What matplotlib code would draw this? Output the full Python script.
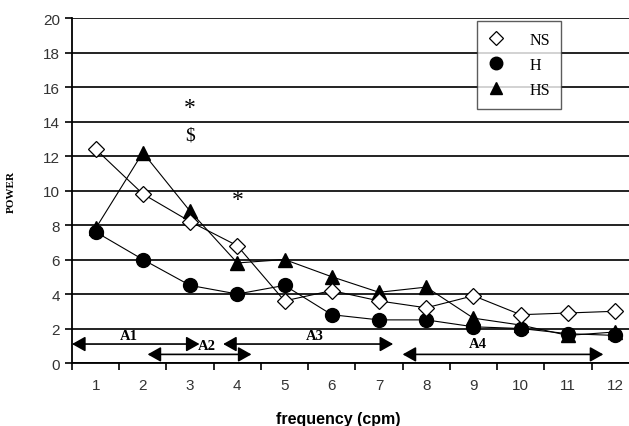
import numpy as np
import matplotlib
matplotlib.use('Agg')
import matplotlib.pyplot as plt

freq = np.arange(1, 13)
ns = [12.4, 9.8, 8.2, 6.8, 3.6, 4.2, 3.6, 3.2, 3.9, 2.8, 2.9, 3.0]
h  = [7.6, 6.0, 4.5, 4.0, 4.5, 2.8, 2.5, 2.5, 2.1, 2.0, 1.7, 1.6]
hs = [7.8, 12.2, 8.8, 5.8, 6.0, 5.0, 4.1, 4.4, 2.6, 2.2, 1.6, 1.8]

# bandes de fréquence (début, fin, hauteur, étiquette, position étiquette)
bands = [
    (0.5, 3.2, 1.1, 'A1', 1.7, 1.6),
    (2.1, 4.3, 0.5, 'A2', 3.35, 1.0),
    (3.7, 7.3, 1.1, 'A3', 5.65, 1.6),
    (7.5, 11.75, 0.5, 'A4', 9.1, 1.15),
]
marks = [(3, 14.8, '*', 17), (3, 13.2, '$', 14), (4, 9.5, '*', 17)]

fig = plt.figure(figsize=(6.29, 4.27), dpi=100)
ax = fig.add_axes([0.1145, 0.1475, 0.901, 0.808])

ax.plot(freq, ns, color='black', lw=0.8, marker='D', ms=8, mfc='white',
        mec='black', mew=0.9, label='NS', zorder=4)
ax.plot(freq, h, color='black', lw=0.8, marker='o', ms=10, mfc='black',
        mec='black', label='H', zorder=3)
ax.plot(freq, hs, color='black', lw=0.8, marker='^', ms=10, mfc='black',
        mec='black', label='HS', zorder=3)

for x0, x1, y, lab, lx, ly in bands:
    ax.annotate('', xy=(x1, y), xytext=(x0, y),
                arrowprops=dict(arrowstyle='<|-|>,head_length=0.8,head_width=0.45',
                                color='black', lw=1.2, shrinkA=0, shrinkB=0),
                annotation_clip=False, zorder=5)
    ax.text(lx, ly, lab, ha='center', va='center', fontsize=10.5,
            fontweight='bold', family='Liberation Serif')

for x, y, s, fs in marks:
    ax.text(x, y, s, ha='center', va='center', fontsize=fs,
            family='Liberation Serif')

ax.set_xlim(0.5, 12.5)
ax.set_ylim(0, 20)
ax.set_yticks(np.arange(0, 21, 2))
ax.set_xticks(freq)
ax.set_xticks(np.arange(0.5, 13, 1), minor=True)
ax.tick_params(axis='x', which='major', length=0, pad=11)
ax.tick_params(axis='x', which='minor', length=5, width=1.2, direction='out')
ax.tick_params(axis='y', length=5, width=1.2, direction='out')
for lbl in ax.get_xticklabels() + ax.get_yticklabels():
    lbl.set_family('Liberation Sans')
    lbl.set_fontsize(11)
    lbl.set_color('#333333')

ax.yaxis.grid(True, color='#222222', lw=1.4)
ax.set_axisbelow(True)
for side in ['top', 'right']:
    ax.spines[side].set_visible(False)
ax.spines['left'].set_linewidth(1.3)
ax.spines['bottom'].set_linewidth(1.3)

ax.set_ylabel('POWER', fontsize=8, fontweight='bold', family='Liberation Serif',
              labelpad=20)
ax.set_xlabel('frequency (cpm)', fontsize=11.5, fontweight='bold',
              family='Liberation Sans')
ax.xaxis.set_label_coords(0.47, -0.14)

leg = ax.legend(loc='upper left', bbox_to_anchor=(0.7, 1.015), frameon=True,
                fancybox=False, edgecolor='#333333',
                prop={'family': 'Liberation Serif', 'size': 11.5},
                handlelength=1.0, handletextpad=1.6, borderpad=0.7,
                labelspacing=0.55, markerscale=0.9)
leg.get_frame().set_linewidth(1.0)
for line in leg.get_lines():
    line.set_linestyle('none')

fig.savefig('out.png', dpi=100)
